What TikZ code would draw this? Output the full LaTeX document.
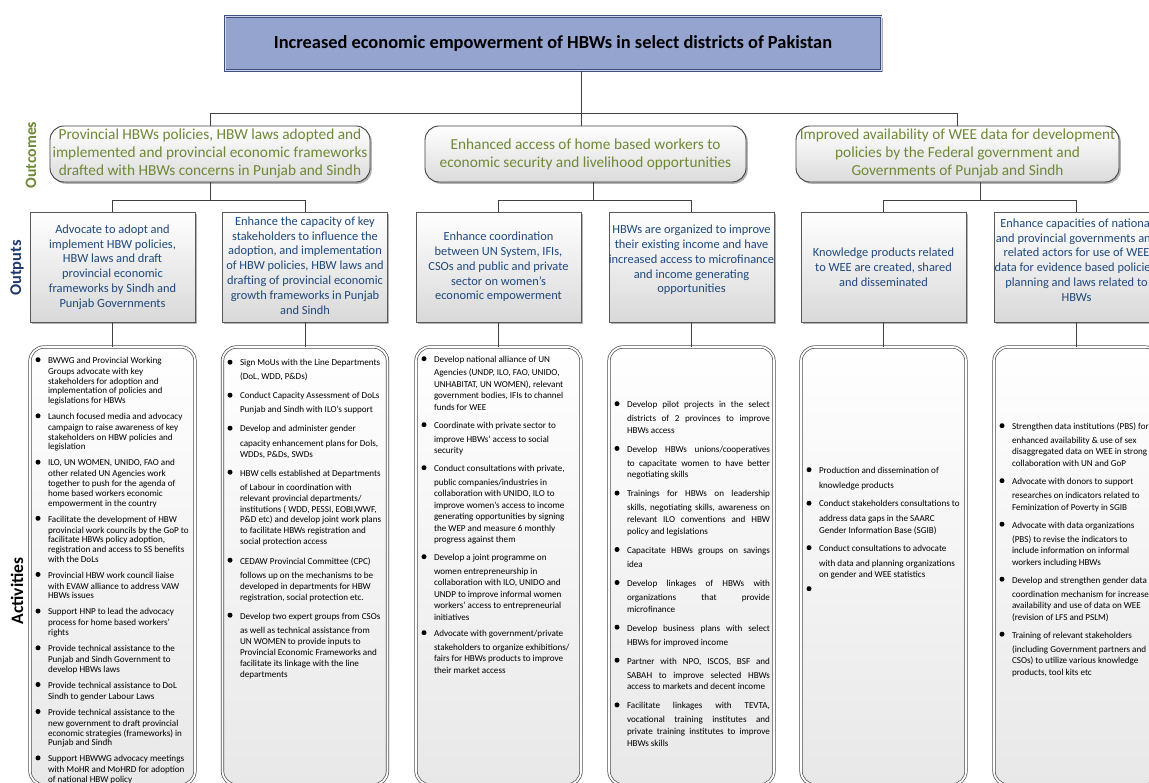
\documentclass[tikz,border=0pt]{standalone}
\usepackage{fontspec}
\setmainfont{Carlito}
\usetikzlibrary{shadows,calc}
\definecolor{titlefill}{HTML}{95A3CF}
\definecolor{titleline}{HTML}{3F4F7F}
\definecolor{ocolor}{HTML}{6F8836}
\definecolor{navytext}{HTML}{1F497D}
\definecolor{navylabel}{HTML}{1F3A6B}
\definecolor{linecol}{HTML}{404040}
\newcommand\actitem[4]{%
  \node[anchor=base west, inner sep=0pt, outer sep=0pt] (#1) at (#2,#3)
    {\parbox[t]{175pt}{\fontsize{9.1}{\actpitch}\selectfont\raggedright #4}};
  \fill ([shift={(-10pt,3.8pt)}]#1.base west) circle (2.5pt);
}
\newcommand\jl[1]{\makebox[143pt][s]{#1}}
\begin{document}
\begin{tikzpicture}[x=1pt,y=-1pt,
  conn/.style={draw=linecol, line width=0.8pt},
  shad/.style={drop shadow={shadow xshift=1.8pt, shadow yshift=-1.8pt, opacity=0.3, fill=black}},
  titlebox/.style={draw=titleline, double=titlefill!45!white, double distance=1pt, line width=0.9pt,
    fill=titlefill, minimum width=656pt, minimum height=54pt, inner sep=0pt,
    font=\fontsize{18.4}{20}\selectfont\bfseries, shad},
  outcomebox/.style={draw=linecol, line width=0.9pt, rounded corners=14pt, top color=white,
    bottom color=black!14, minimum height=56pt, inner xsep=1pt, inner ysep=0pt, align=center,
    font=\fontsize{15.3}{18}\selectfont, text=ocolor, shad},
  outbox/.style={draw=black!65, line width=0.8pt, top color=white, bottom color=black!15,
    minimum width=165pt, minimum height=110pt, inner sep=0pt, shad},
  outtext/.style={align=center, inner sep=0pt, font=\fontsize{12.4}{14.8}\selectfont, text=navytext},
  actbox/.style={draw=black!70, line width=0.7pt, double=white, double distance=1.8pt,
    rounded corners=14pt, top color=white, bottom color=black!9,
    minimum width=165pt, minimum height=438pt, inner sep=0pt},
  sidelabel/.style={rotate=90, inner sep=0pt, font=\bfseries}]
\useasboundingbox (0,0) rectangle (1149,783);
\fill[white] (0,0) rectangle (1149,783);

% title
\node[titlebox] (title) at (553,43.5) {Increased economic empowerment of HBWs in select districts of Pakistan};

% outcomes
\node[outcomebox, minimum width=320pt] (o1) at (210,154) {Provincial HBWs policies, HBW laws adopted and\\implemented and provincial economic frameworks\\drafted with HBWs concerns in Punjab and Sindh};
\node[outcomebox, minimum width=321pt] (o2) at (585.5,154) {Enhanced access of home based workers to\\economic security and livelihood opportunities};
\node[outcomebox, minimum width=323pt] (o3) at (957.5,154) {Improved availability of WEE data for development\\policies by the Federal government and\\Governments of Punjab and Sindh};

% outputs
\node[outbox] (p1) at (112.5,267) {};
\node[outbox] (p2) at (305,267) {};
\node[outbox] (p3) at (498.5,267) {};
\node[outbox] (p4) at (691.5,267) {};
\node[outbox] (p5) at (883.5,267) {};
\node[outbox] (p6) at (1076.5,267) {};
\node[outtext] (p1t) at (p1.center) {Advocate to adopt and\\implement HBW policies,\\HBW laws and draft\\provincial economic\\frameworks by Sindh and\\Punjab Governments};
\node[outtext] (p2t) at ([yshift=1.5pt]p2.center) {Enhance the capacity of key\\stakeholders to influence the\\adoption, and implementation\\of HBW policies, HBW laws and\\drafting of provincial economic\\growth frameworks in Punjab\\and Sindh};
\node[outtext] (p3t) at (p3.center) {Enhance coordination\\between UN System, IFIs,\\CSOs and public and private\\sector on women’s\\economic empowerment};
\node[outtext] (p4t) at ([yshift=7pt]p4.center) {HBWs are organized to improve\\their existing income and have\\increased access to microfinance\\and income generating\\opportunities};
\node[outtext] (p5t) at (p5.center) {Knowledge products related\\to WEE are created, shared\\and disseminated};
\node[outtext] (p6t) at ([yshift=7pt]p6.center) {Enhance capacities of national\\and provincial governments and\\related actors for use of WEE\\data for evidence based policies,\\planning and laws related to\\HBWs};

% activity boxes
\node[actbox] (a1) at (112.5,566) {};
\node[actbox] (a2) at (305,566) {};
\node[actbox] (a3) at (498.5,566) {};
\node[actbox] (a4) at (691.5,566) {};
\node[actbox] (a5) at (883.5,566) {};
\node[actbox] (a6) at (1076.5,566) {};

% side labels
\node[sidelabel, text=ocolor, font=\fontsize{15.8}{17}\selectfont\bfseries] (lo) at (31,155) {Outcomes};
\node[sidelabel, text=navylabel, font=\fontsize{16.4}{17}\selectfont\bfseries] (lp) at (17,268) {Outputs};
\node[sidelabel, text=black, font=\fontsize{17.5}{19}\selectfont\bfseries] (la) at (17,591) {Activities};

% connectors
\coordinate (tj) at (581,113);
\draw[conn] (title.south -| tj) -- (tj |- o2.north);
\draw[conn] (o1.north) -- (o1.north |- tj) -- (o3.north |- tj) -- (o3.north);
\coordinate (j1) at (210,200);
\coordinate (j2) at (593,200);
\coordinate (j3) at (980,200);
\draw[conn] (o1.south -| j1) -- (j1);
\draw[conn] (o2.south -| j2) -- (j2);
\draw[conn] (o3.south -| j3) -- (j3);
\draw[conn] (p1.north) -- (p1.north |- j1) -- (p2.north |- j1) -- (p2.north);
\draw[conn] (p3.north) -- (p3.north |- j2) -- (p4.north |- j2) -- (p4.north);
\draw[conn] (p5.north) -- (p5.north |- j3) -- (p6.north |- j3) -- (p6.north);
\foreach \i in {1,...,6} {\draw[conn] (p\i.south) -- (a\i.north);}

% column 1
\def\actpitch{9.7pt}\def\fx{1.3pt}
\actitem{c1i1}{48}{363.5}{BWWG and Provincial Working\\[\fx]Groups advocate with key\\stakeholders for adoption and\\implementation of policies and\\legislations for HBWs}
\actitem{c1i2}{48}{419.6}{Launch focused media and advocacy\\[\fx]campaign to raise awareness of key\\stakeholders on HBW policies and\\legislation}
\actitem{c1i3}{48}{466}{ILO, UN WOMEN, UNIDO, FAO and\\[\fx]other related UN Agencies work\\together to push for the agenda of\\home based workers economic\\empowerment in the country}
\actitem{c1i4}{48}{522.1}{Facilitate the development of HBW\\[\fx]provincial work councils by the GoP to\\facilitate HBWs policy adoption,\\registration and access to SS benefits\\with the DoLs}
\actitem{c1i5}{48}{578.2}{Provincial HBW work council liaise\\[\fx]with EVAW alliance to address VAW\\HBWs issues}
\actitem{c1i6}{48}{614.9}{Support HNP to lead the advocacy\\[\fx]process for home based workers’\\rights}
\actitem{c1i7}{48}{651.6}{Provide technical assistance to the\\[\fx]Punjab and Sindh Government to\\develop HBWs laws}
\actitem{c1i8}{48}{688.3}{Provide technical assistance to DoL\\[\fx]Sindh to gender Labour Laws}
\actitem{c1i9}{48}{715.3}{Provide technical assistance to the\\[\fx]new government to draft provincial\\economic strategies (frameworks) in\\Punjab and Sindh}
\actitem{c1i10}{48}{761.7}{Support HBWWG advocacy meetings\\[\fx]with MoHR and MoHRD for adoption\\of national HBW policy}

% column 2
\def\actpitch{11pt}\def\fx{3pt}
\actitem{c2i1}{240}{366}{Sign MoUs with the Line Departments\\[\fx](DoL, WDD, P\&Ds)}
\actitem{c2i2}{240}{399}{Conduct Capacity Assessment of DoLs\\[\fx]Punjab and Sindh with ILO’s support}
\actitem{c2i3}{240}{432}{Develop and administer gender\\[\fx]capacity enhancement plans for Dols,\\WDDs, P\&Ds, SWDs}
\actitem{c2i4}{240}{476}{HBW cells established at Departments\\[\fx]of Labour in coordination with\\relevant provincial departments/\\institutions ( WDD, PESSI, EOBI,WWF,\\P\&D etc) and develop joint work plans\\to facilitate HBWs registration and\\social protection access}
\actitem{c2i5}{240}{564}{CEDAW Provincial Committee (CPC)\\[\fx]follows up on the mechanisms to be\\developed in departments for HBW\\registration, social protection etc.}
\actitem{c2i6}{240}{619}{Develop two expert groups from CSOs\\[\fx]as well as technical assistance from\\UN WOMEN to provide inputs to\\Provincial Economic Frameworks and\\facilitate its linkage with the line\\departments}

% column 3
\def\actpitch{11.5pt}\def\fx{2pt}
\actitem{c3i1}{434}{362.5}{Develop national alliance of UN\\[\fx]Agencies (UNDP, ILO, FAO, UNIDO,\\UNHABITAT, UN WOMEN), relevant\\government bodies, IFIs to channel\\funds for WEE}
\actitem{c3i2}{434}{428.5}{Coordinate with private sector to\\[\fx]improve HBWs’ access to social\\security}
\actitem{c3i3}{434}{471.5}{Conduct consultations with private,\\[\fx]public companies/industries in\\collaboration with UNIDO, ILO to\\improve women’s access to income\\generating opportunities by signing\\the WEP and measure 6 monthly\\progress against them}
\actitem{c3i4}{434}{560.5}{Develop a joint programme on\\[\fx]women entrepreneurship in\\collaboration with ILO, UNIDO and\\UNDP to improve informal women\\workers’ access to entrepreneurial\\initiatives}
\actitem{c3i5}{434}{636.5}{Advocate with government/private\\[\fx]stakeholders to organize exhibitions/\\fairs for HBWs products to improve\\their market access}

% column 4 (justified)
\def\actpitch{11.7pt}\def\fx{2.3pt}
\actitem{c4i1}{627}{407.5}{\jl{Develop pilot projects in the select}\\[\fx]\jl{districts of 2 provinces to improve}\\HBWs access}
\actitem{c4i2}{627}{452.2}{\jl{Develop HBWs unions/cooperatives}\\[\fx]\jl{to capacitate women to have better}\\negotiating skills}
\actitem{c4i3}{627}{496.9}{\jl{Trainings for HBWs on leadership}\\[\fx]\jl{skills, negotiating skills, awareness on}\\\jl{relevant ILO conventions and HBW}\\policy and legislations}
\actitem{c4i4}{627}{553.3}{\jl{Capacitate HBWs groups on savings}\\[\fx]idea}
\actitem{c4i5}{627}{586.3}{\jl{Develop linkages of HBWs with}\\[\fx]\jl{organizations that provide}\\microfinance}
\actitem{c4i6}{627}{631}{\jl{Develop business plans with select}\\[\fx]HBWs for improved income}
\actitem{c4i7}{627}{664}{\jl{Partner with NPO, ISCOS, BSF and}\\[\fx]\jl{SABAH to improve selected HBWs}\\access to markets and decent income}
\actitem{c4i8}{627}{708.7}{\jl{Facilitate linkages with TEVTA,}\\[\fx]\jl{vocational training institutes and}\\\jl{private training institutes to improve}\\HBWs skills}

% column 5
\def\actpitch{11pt}\def\fx{4pt}
\actitem{c5i1}{819}{473.5}{Production and dissemination of\\[\fx]knowledge products}
\actitem{c5i2}{819}{507}{Conduct stakeholders consultations to\\[\fx]address data gaps in the SAARC\\Gender Information Base (SGIB)}
\actitem{c5i3}{819}{551.5}{Conduct consultations to advocate\\[\fx]with data and planning organizations\\on gender and WEE statistics}
\actitem{c5i4}{819}{592.5}{}

% column 6
\def\actpitch{11.5pt}\def\fx{2.5pt}
\actitem{c6i1}{1012}{429.5}{Strengthen data institutions (PBS) for\\[\fx]enhanced availability \& use of sex\\disaggregated data on WEE in strong\\collaboration with UN and GoP}
\actitem{c6i2}{1012}{484.5}{Advocate with donors to support\\[\fx]researches on indicators related to\\Feminization of Poverty in SGIB}
\actitem{c6i3}{1012}{528}{Advocate with data organizations\\[\fx](PBS) to revise the indicators to\\include information on informal\\workers including HBWs}
\actitem{c6i4}{1012}{583}{Develop and strengthen gender data\\[\fx]coordination mechanism for increased\\availability and use of data on WEE\\(revision of LFS and PSLM)}
\actitem{c6i5}{1012}{638}{Training of relevant stakeholders\\[\fx](including Government partners and\\CSOs) to utilize various knowledge\\products, tool kits etc}
\end{tikzpicture}
\end{document}
